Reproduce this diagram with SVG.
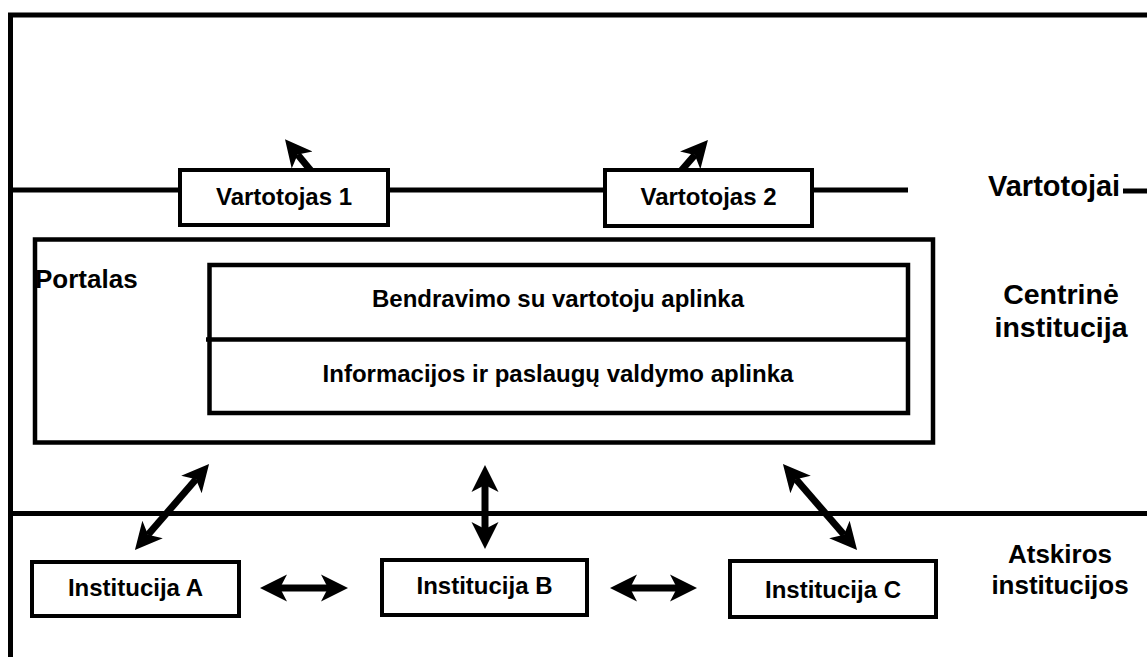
<svg xmlns="http://www.w3.org/2000/svg" width="1147" height="657" viewBox="0 0 1147 657">
<style>
text{font-family:"Liberation Sans",Arial,sans-serif;font-weight:bold;fill:#000}
.box{fill:#fff;stroke:#000;stroke-width:4}
.frame{stroke:#000;stroke-width:5;fill:none}
.conn{stroke:#000;stroke-width:7;fill:none}
.lbl{font-size:24px;text-anchor:middle}
.sec{font-size:26px;text-anchor:middle}
.sec2{font-size:28.5px;text-anchor:middle}
</style>
<defs>
<marker id="ah" markerUnits="userSpaceOnUse" markerWidth="40" markerHeight="40" viewBox="0 -20 40 40" refX="7" refY="0" orient="auto-start-reverse">
<path d="M27,0 L0,-13.5 L7,0 L0,13.5 Z" fill="#000"/>
</marker>
</defs>
<g id="frame">
<line class="frame" x1="10.5" y1="13" x2="10.5" y2="657"/>
<line class="frame" x1="8" y1="15" x2="1147" y2="15"/>
<line class="frame" x1="10" y1="190" x2="180" y2="190"/>
<line class="frame" x1="388" y1="190" x2="605" y2="190"/>
<line class="frame" x1="812" y1="190" x2="908" y2="190"/>
<line class="frame" x1="1123" y1="191" x2="1147" y2="191"/>
<line class="frame" x1="10" y1="513.5" x2="1147" y2="513.5"/>
</g>
<g id="connectors">
<line class="conn" x1="312" y1="172" x2="297.7" y2="154.6" marker-end="url(#ah)"/>
<line class="conn" x1="680" y1="172" x2="694.8" y2="155" marker-end="url(#ah)"/>
<line class="conn" x1="148" y1="534.8" x2="196" y2="479.2" marker-start="url(#ah)" marker-end="url(#ah)"/>
<line class="conn" x1="485" y1="485" x2="485" y2="529" marker-start="url(#ah)" marker-end="url(#ah)"/>
<line class="conn" x1="796" y1="479.2" x2="844" y2="534.8" marker-start="url(#ah)" marker-end="url(#ah)"/>
<line class="conn" x1="280" y1="588" x2="328" y2="588" marker-start="url(#ah)" marker-end="url(#ah)"/>
<line class="conn" x1="630" y1="588" x2="677" y2="588" marker-start="url(#ah)" marker-end="url(#ah)"/>
</g>
<g id="vartotojas1">
<rect class="box" x="180" y="170" width="208" height="55"/>
<text class="lbl" x="284" y="205">Vartotojas 1</text>
</g>
<g id="vartotojas2">
<rect class="box" x="605" y="170" width="207" height="56"/>
<text class="lbl" x="708.5" y="205">Vartotojas 2</text>
</g>
<g id="portalas">
<rect x="35" y="239.5" width="898" height="203" fill="none" stroke="#000" stroke-width="4.5"/>
<text x="35" y="288" style="font-size:26px">Portalas</text>
</g>
<g id="aplinkos">
<rect x="209.5" y="265" width="698.5" height="148" fill="#fff" stroke="#000" stroke-width="4.5"/>
<line x1="206" y1="339.5" x2="908" y2="339.5" stroke="#000" stroke-width="4.5"/>
<text class="lbl" x="558" y="307">Bendravimo su vartotoju aplinka</text>
<text class="lbl" x="558" y="382">Informacijos ir paslaugų valdymo aplinka</text>
</g>
<g id="institucijaA">
<rect class="box" x="32" y="562" width="207" height="54"/>
<text class="lbl" x="135.5" y="596">Institucija A</text>
</g>
<g id="institucijaB">
<rect class="box" x="382" y="560" width="205" height="55"/>
<text class="lbl" x="484.5" y="594">Institucija B</text>
</g>
<g id="institucijaC">
<rect class="box" x="730" y="561" width="206" height="56"/>
<text class="lbl" x="833" y="598">Institucija C</text>
</g>
<g id="labels">
<text x="988" y="196" style="font-size:29px">Vartotojai</text>
<text class="sec2" x="1061" y="304">Centrinė</text>
<text class="sec2" x="1061" y="337">institucija</text>
<text class="sec" x="1060" y="563">Atskiros</text>
<text class="sec" x="1060" y="594">institucijos</text>
</g>
</svg>
